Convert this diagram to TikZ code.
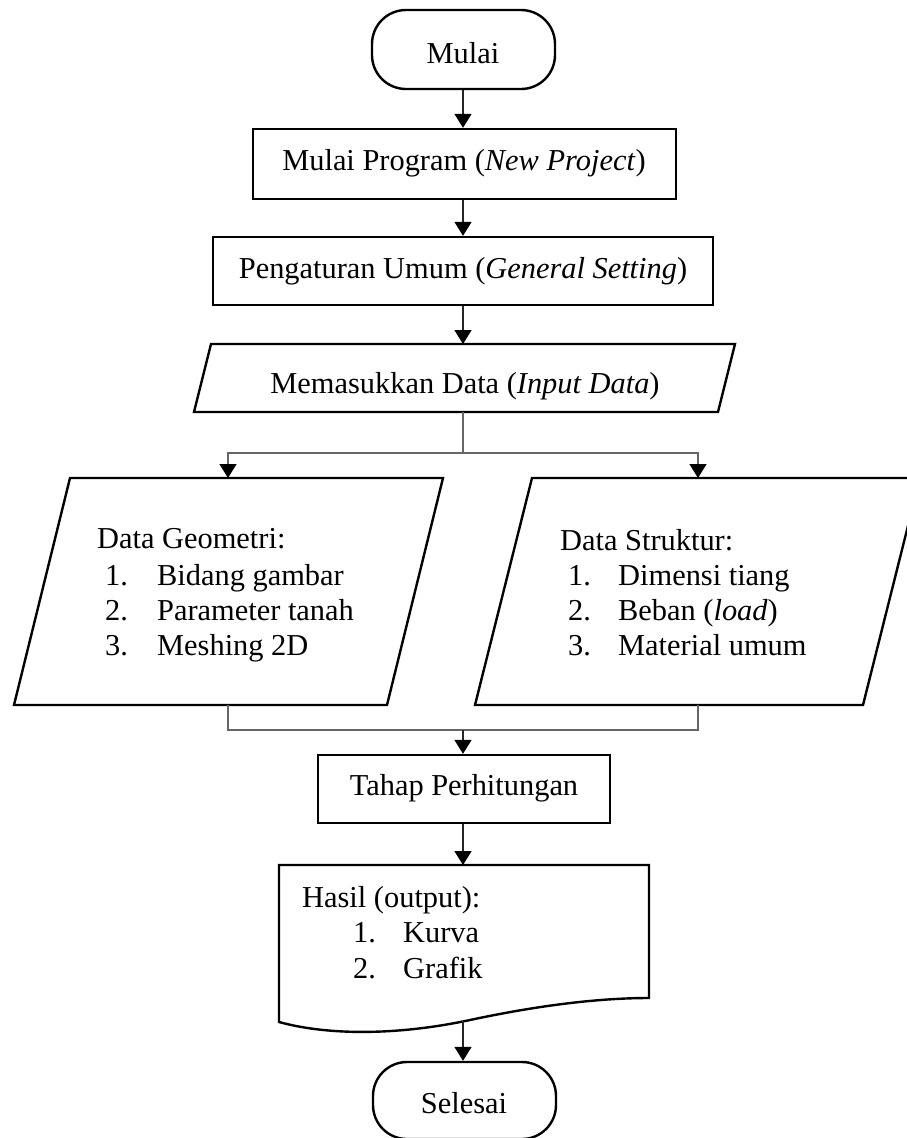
\documentclass[tikz,border=0pt]{standalone}
\usepackage{fontspec}
\setmainfont{Liberation Serif}
\usetikzlibrary{arrows.meta}
\begin{document}
\begin{tikzpicture}[x=1pt,y=-1pt,
  shp/.style={draw=black, line width=2.4pt},
  box/.style={shp, rectangle, inner sep=0pt},
  term/.style={box, rounded corners=34pt},
  txt/.style={inner sep=0pt, anchor=base, font=\fontsize{30.4}{36}\selectfont},
  ltxt/.style={txt, anchor=base west},
  tip/.style={-{Triangle[length=14pt,width=17pt,color=black]}},
  arr/.style={draw=black!85, line width=1.7pt, tip},
  link/.style={draw=black!60, line width=1.4pt},
  larr/.style={link, tip}]
\path[fill=white,use as bounding box] (0,0) rectangle (906,1138);

% start
\node[term, minimum width=183pt, minimum height=79pt] (mulai) at (463.5,49.5) {};
\node[txt] (mulaiT) at (463,63) {Mulai};

% box 1
\node[box, minimum width=423pt, minimum height=70pt] (prog) at (464.5,164) {};
\node[txt] (progT) at (464,170) {Mulai Program (\textit{New Project})};

% box 2
\node[box, minimum width=500pt, minimum height=68pt] (gen) at (463,271) {};
\node[txt] (genT) at (463,278) {Pengaturan Umum (\textit{General Setting})};

% input parallelogram
\coordinate (inTL) at (211,344);
\coordinate (inTR) at (735,344);
\coordinate (inBR) at (718,412);
\coordinate (inBL) at (194,412);
\draw[shp] (inTL) -- (inTR) -- (inBR) -- (inBL) -- cycle;
\node[txt] (inpT) at (465,393) {Memasukkan Data (\textit{Input Data})};
\coordinate (inTop) at (463,344);
\coordinate (inBot) at (463,412);

% split
\coordinate (split) at (463,453);
\coordinate (geoIn) at (228,478);
\coordinate (strIn) at (698,478);

% left parallelogram
\coordinate (geoTL) at (70,478);
\coordinate (geoTR) at (443,478);
\coordinate (geoBR) at (387,705);
\coordinate (geoBL) at (14,705);
\draw[shp] (geoTL) -- (geoTR) -- (geoBR) -- (geoBL) -- cycle;
\node[ltxt] (geo0) at (97,548) {Data Geometri:};
\node[ltxt] (geo1n) at (105,585) {1.};
\node[ltxt] (geo1) at (157,585) {Bidang gambar};
\node[ltxt] (geo2n) at (105,620) {2.};
\node[ltxt] (geo2) at (157,620) {Parameter tanah};
\node[ltxt] (geo3n) at (105,655) {3.};
\node[ltxt] (geo3) at (157,655) {Meshing 2D};

% right parallelogram
\coordinate (strTL) at (532,478);
\coordinate (strTR) at (920,478);
\coordinate (strBR) at (863,705);
\coordinate (strBL) at (475,705);
\draw[shp] (strTL) -- (strTR) -- (strBR) -- (strBL) -- cycle;
\node[ltxt] (str0) at (560,550) {Data Struktur:};
\node[ltxt] (str1n) at (568,585) {1.};
\node[ltxt] (str1) at (618,585) {Dimensi tiang};
\node[ltxt] (str2n) at (568,620) {2.};
\node[ltxt] (str2) at (618,620) {Beban (\textit{load})};
\node[ltxt] (str3n) at (568,655) {3.};
\node[ltxt] (str3) at (618,655) {Material umum};

\coordinate (geoOut) at (228,705);
\coordinate (strOut) at (698,705);
\coordinate (merge) at (463,730);

% calculation
\node[box, minimum width=292pt, minimum height=68pt] (tahap) at (464,789) {};
\node[txt] (tahapT) at (464,795) {Tahap Perhitungan};

% document shape
\coordinate (docTL) at (279,865);
\coordinate (docTR) at (649,865);
\coordinate (docBR) at (649,998);
\coordinate (docBL) at (279,1022);
\draw[shp] (docBL) -- (docTL) -- (docTR) -- (docBR)
  .. controls (600,998) and (540,1005) .. (470,1020)
  .. controls (400,1035) and (330,1036) .. (docBL) -- cycle;
\node[ltxt] (has0) at (302,907) {Hasil (output):};
\node[ltxt] (has1n) at (353,942) {1.};
\node[ltxt] (has1) at (403,942) {Kurva};
\node[ltxt] (has2n) at (353,978) {2.};
\node[ltxt] (has2) at (403,978) {Grafik};
\coordinate (docTop) at (463,865);
\coordinate (docBot) at (463,1021);

% end
\node[term, minimum width=183pt, minimum height=77pt] (selesai) at (464.5,1100.5) {};
\node[txt] (selesaiT) at (464,1113) {Selesai};

% connectors (kept vertical on the main axis x=463)
\draw[arr] (inTop |- mulai.south) -- (inTop |- prog.north);
\draw[arr] (inTop |- prog.south) -- (inTop |- gen.north);
\draw[arr] (inTop |- gen.south) -- (inTop);
\draw[link] (inBot) -- (split);
\draw[larr] (split) -| (geoIn);
\draw[larr] (split) -| (strIn);
\draw[link] (geoOut) |- (merge);
\draw[link] (strOut) |- (merge);
\draw[arr] (merge) -- (merge |- tahap.north);
\draw[arr] (merge |- tahap.south) -- (docTop);
\draw[arr] (docBot) -- (docBot |- selesai.north);
\end{tikzpicture}
\end{document}
